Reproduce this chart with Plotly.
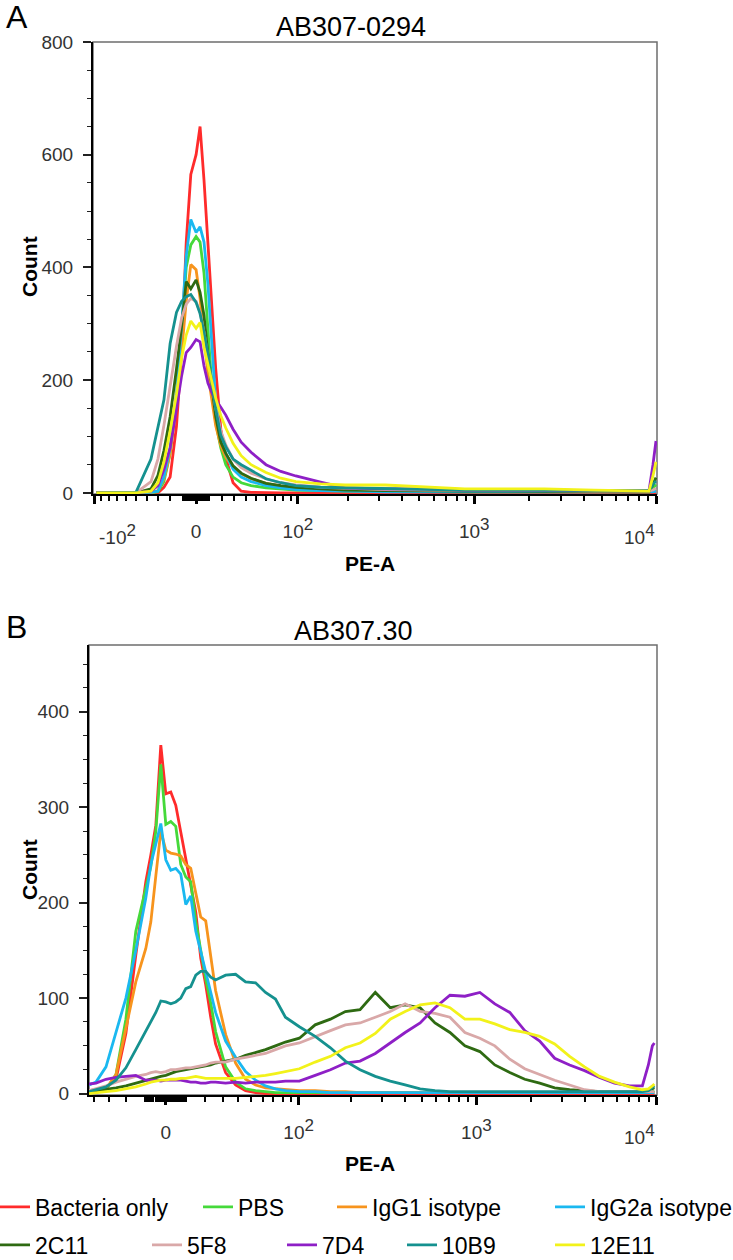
import numpy as np
import plotly.graph_objects as go

# ---------------- display transform (biexponential-like axis) ----------------
W_A = 60.0   # width parameter of panel A axis
W_B = 38.0   # width parameter of panel B axis


def logicle(values, w):
    return np.arcsinh(np.asarray(values, dtype=float) / w)


SERIES = ["Bacteria only", "PBS", "IgG1 isotype", "IgG2a isotype",
          "2C11", "5F8", "7D4", "10B9", "12E11"]
COLORS = ["#FF2B2B", "#45D93A", "#F7941D", "#1AB8F0",
          "#2E6A12", "#D9A8A8", "#8E1FC6", "#15918F", "#F2F21A"]

# ---------------- Panel A : AB307-0294 ----------------
PE_A = [-97, -50, -36, -30, -25, -20, -15, -11, -7.5, -4, 0, 3, 6, 9, 12, 15, 19, 23,
        29, 36, 45, 60, 77, 97, 138, 192, 323, 536, 888, 1470, 2430, 4550, 7510,
        9070, 9530, 9900]
a_bacteria = [0, 0, 0, 0, 10, 28, 118, 250, 444, 565, 600, 650, 555, 440, 330, 220, 113, 62,
              18, 3, 1, 0, 0, 0, 0, 0, 0, 0, 0, 0, 0, 0, 0, 0, 0, 0]
a_pbs = [0, 0, 0, 2, 20, 70, 165, 280, 400, 440, 455, 445, 390, 290, 190, 125, 80, 50,
         28, 18, 13, 9, 7, 5, 4, 3, 3, 2, 2, 2, 2, 2, 2, 2, 8, 15]
a_igg1 = [0, 0, 0, 4, 25, 70, 160, 250, 340, 405, 396, 345, 280, 210, 165, 119, 84, 63,
          45, 34, 25, 17, 12, 9, 6, 4, 3, 3, 2, 2, 2, 2, 2, 2, 3, 5]
a_igg2a = [0, 0, 1, 3, 28, 80, 178, 296, 420, 485, 462, 472, 445, 370, 255, 160, 102, 70,
           42, 28, 20, 13, 9, 6, 4, 3, 2, 2, 2, 2, 2, 1, 1, 1, 2, 3]
a_2c11 = [0, 0, 7, 31, 75, 135, 220, 296, 375, 362, 378, 356, 315, 245, 190, 135, 90, 70,
          48, 35, 26, 17, 13, 10, 7, 5, 4, 3, 3, 3, 3, 2, 2, 2, 15, 27]
a_5f8 = [0, 0, 20, 60, 120, 190, 260, 310, 335, 345, 340, 320, 285, 240, 195, 150, 110, 85,
         60, 45, 35, 25, 18, 14, 10, 8, 6, 5, 5, 4, 4, 3, 3, 3, 5, 8]
a_7d4 = [0, 0, 3, 13, 42, 80, 149, 208, 249, 258, 272, 268, 225, 195, 178, 165, 152, 138,
         113, 90, 72, 50, 38, 30, 19, 9, 7, 7, 5, 5, 4, 4, 4, 4, 50, 92]
a_10b9 = [0, 1, 60, 119, 165, 265, 320, 340, 348, 352, 338, 318, 285, 245, 200, 149, 102, 82,
          60, 50, 40, 25, 18, 13, 10, 9, 7, 6, 5, 5, 5, 4, 4, 4, 15, 21]
a_12e11 = [0, 0, 3, 18, 55, 110, 175, 240, 280, 305, 292, 302, 258, 228, 198, 168, 137, 115,
           88, 66, 50, 36, 26, 20, 16, 14, 14, 10, 7, 7, 7, 5, 3, 3, 30, 55]

# ---------------- Panel B : AB307.30 ----------------
PE_B = [-43.5, -38.5, -31.9, -25.8, -20.2, -14.9, -9.8, -7.3, -4.85, -2.42,
        0, 2.42, 4.85, 7.3, 9.8, 12.3, 14.9, 17.5, 20.2, 23,
        25.8, 31.9, 38.5, 45.7, 53.7, 62.5, 72.3, 83.3, 101, 125,
        153, 186, 225, 274, 332, 402, 487, 589, 713, 863,
        1045, 1265, 1531, 1853, 2243, 2715, 3286, 3976, 4813, 5824,
        7049, 8314, 8975, 9445, 9690]
b_bacteria = [3, 4, 6, 15, 63, 145, 222, 250, 281, 365,
              314, 316, 302, 274, 246, 218, 190, 142, 114, 80,
              52, 22, 9, 3, 1, 0, 0, 0, 0, 0,
              0, 0, 0, 0, 0, 0, 0, 0, 0, 0,
              0, 0, 0, 0, 0, 0, 0, 0, 0, 0,
              0, 0, 0, 0, 0]
b_pbs = [1, 2, 4, 20, 78, 170, 214, 238, 275, 345,
         282, 285, 280, 240, 227, 222, 180, 150, 120, 95,
         65, 28, 12, 5, 3, 2, 1, 1, 1, 1,
         1, 1, 1, 1, 1, 1, 1, 1, 1, 1,
         1, 1, 1, 1, 1, 1, 1, 1, 1, 1,
         1, 1, 1, 2, 3]
b_igg1 = [2, 3, 5, 20, 67, 117, 152, 180, 228, 275,
          255, 252, 251, 249, 240, 236, 210, 185, 181, 145,
          108, 62, 32, 15, 9, 6, 5, 4, 3, 3,
          2, 2, 1, 1, 1, 1, 1, 1, 1, 1,
          1, 1, 1, 1, 1, 1, 1, 1, 1, 1,
          1, 1, 1, 1, 1]
b_igg2a = [9, 12, 28, 63, 100, 150, 205, 240, 262, 283,
           245, 234, 236, 230, 198, 207, 170, 148, 128, 105,
           85, 55, 38, 23, 14, 8, 5, 3, 2, 2,
           1, 1, 1, 1, 1, 1, 1, 1, 1, 1,
           1, 1, 1, 1, 1, 1, 1, 1, 1, 1,
           1, 1, 1, 1, 1]
b_2c11 = [2, 3, 4, 6, 8, 11, 14, 15, 17, 18,
          19, 21, 23, 24, 25, 26, 27, 28, 29, 30,
          32, 34, 36, 40, 43, 46, 50, 54, 58, 72,
          78, 86, 88, 106, 90, 93, 90, 74, 64, 50,
          44, 30, 22, 15, 11, 6, 4, 3, 2, 2,
          2, 2, 3, 5, 6]
b_5f8 = [3, 5, 8, 12, 15, 18, 20, 22, 23, 22,
         23, 25, 25, 26, 27, 27, 28, 29, 30, 32,
         33, 33, 36, 38, 40, 42, 46, 50, 53, 60,
         66, 72, 74, 80, 86, 94, 86, 84, 80, 64,
         58, 50, 36, 26, 20, 14, 9, 4, 2, 2,
         2, 2, 2, 2, 2]
b_7d4 = [10, 11, 15, 17, 18, 19, 14, 14, 14, 13,
         14, 14, 14, 14, 13, 12, 12, 11, 11, 12,
         12, 11, 12, 11, 12, 12, 12, 13, 13, 19,
         25, 32, 34, 42, 53, 64, 74, 90, 103, 102,
         106, 94, 85, 66, 55, 37, 30, 24, 17, 11,
         8, 8, 30, 50, 53]
b_10b9 = [2, 4, 7, 14, 27, 46, 65, 74, 85, 97,
          96, 94, 96, 100, 110, 112, 124, 128, 128, 122,
          119, 124, 125, 117, 116, 106, 99, 80, 70, 60,
          48, 34, 25, 18, 13, 9, 5, 3, 2, 2,
          2, 2, 2, 2, 2, 2, 2, 2, 2, 2,
          2, 2, 3, 6, 8]
b_12e11 = [0, 1, 2, 3, 5, 7, 10, 12, 13, 14,
           14, 15, 15, 16, 16, 17, 18, 17, 16, 16,
           16, 16, 16, 17, 18, 19, 21, 23, 26, 33,
           39, 48, 53, 63, 78, 86, 93, 95, 90, 78,
           78, 73, 67, 64, 60, 52, 39, 28, 18, 12,
           7, 4, 5, 8, 10]

PANEL_A = [a_bacteria, a_pbs, a_igg1, a_igg2a, a_2c11, a_5f8, a_7d4, a_10b9, a_12e11]
PANEL_B = [b_bacteria, b_pbs, b_igg1, b_igg2a, b_2c11, b_5f8, b_7d4, b_10b9, b_12e11]

# tick labels
SUP = "<sup><span style='font-size:17px'>{}</span></sup>"
A_MAJOR = [-100, 0, 100, 1000, 10000]
A_MAJOR_TEXT = ["", "0", "10" + SUP.format(2), "10" + SUP.format(3), ""]
B_MAJOR = [0, 100, 1000, 10000]
B_MAJOR_TEXT = ["0", "10" + SUP.format(2), "10" + SUP.format(3), ""]
A_YTICKS = [0, 200, 400, 600, 800]
B_YTICKS = [0, 100, 200, 300, 400]

MINOR_POS = [m * 10 ** e for e in (0, 1, 2, 3) for m in range(2, 10)] + list(range(1, 11))
A_MINOR = sorted(set([v for v in MINOR_POS] + [-v for v in MINOR_POS if v < 100]))
B_MINOR = sorted(set([v for v in MINOR_POS] + [-v for v in MINOR_POS if v <= 40]))

FONT = "Liberation Sans, Arial, Helvetica, sans-serif"
FW, FH = 733, 1260

fig = go.Figure()

for name, color, ya in zip(SERIES, COLORS, PANEL_A):
    fig.add_trace(go.Scatter(x=logicle(PE_A, W_A), y=ya, mode="lines", name=name,
                             line=dict(color=color, width=2.8), showlegend=False,
                             xaxis="x", yaxis="y", hoverinfo="skip"))

for i, (name, color, yb) in enumerate(zip(SERIES, COLORS, PANEL_B)):
    fig.add_trace(go.Scatter(x=logicle(PE_B, W_B), y=yb, mode="lines", name=name,
                             line=dict(color=color, width=2.8), showlegend=True,
                             legend="legend" if i == 0 else f"legend{i + 1}",
                             xaxis="x2", yaxis="y2", hoverinfo="skip"))


def px(x):
    return x / FW


def py(y):
    return 1 - y / FH


TICKFONT = dict(size=19, color="#333333", family=FONT)
xcommon = dict(showline=True, linecolor="black", linewidth=2, showgrid=False, zeroline=False,
               ticks="outside", ticklen=8, tickwidth=2.5, tickcolor="black",
               tickfont=TICKFONT, tickmode="array", ticklabelstandoff=11)
ycommon = dict(showline=True, linecolor="black", linewidth=2, showgrid=False, zeroline=False,
               ticks="outside", ticklen=8, tickwidth=2, tickcolor="#222222",
               tickfont=TICKFONT, tickmode="array", ticklabelstandoff=6)

fig.update_layout(
    width=FW, height=FH, paper_bgcolor="white", plot_bgcolor="white",
    margin=dict(l=0, r=0, t=0, b=0, autoexpand=False),
    font=dict(family=FONT, color="black"),
    xaxis=dict(xcommon, domain=[px(93), px(657)], anchor="y", range=[-1.30, 5.812],
               tickvals=logicle(A_MAJOR, W_A), ticktext=A_MAJOR_TEXT,
               minor=dict(tickmode="array", tickvals=logicle(A_MINOR, W_A), ticks="outside",
                          ticklen=5, tickwidth=1.5, tickcolor="black", showgrid=False)),
    yaxis=dict(ycommon, domain=[py(494), py(42)], anchor="x", range=[-2, 800],
               tickvals=A_YTICKS,
               minor=dict(tickmode="linear", tick0=0, dtick=50, ticks="outside", ticklen=4,
                          tickwidth=1.2, tickcolor="#222222", showgrid=False)),
    xaxis2=dict(xcommon, domain=[px(89), px(657)], anchor="y2", range=[-0.98, 6.268],
                tickvals=logicle(B_MAJOR, W_B), ticktext=B_MAJOR_TEXT,
                minor=dict(tickmode="array", tickvals=logicle(B_MINOR, W_B), ticks="outside",
                           ticklen=5, tickwidth=1.5, tickcolor="black", showgrid=False)),
    yaxis2=dict(ycommon, domain=[py(1095), py(645)], anchor="x2", range=[-1.5, 470],
                tickvals=B_YTICKS,
                minor=dict(tickmode="linear", tick0=0, dtick=25, ticks="outside", ticklen=4,
                           tickwidth=1.2, tickcolor="#222222", showgrid=False)),
)

# frame around each panel
for xr, yr in (("x", "y"), ("x2", "y2")):
    fig.add_shape(type="rect", xref=f"{xr} domain", yref=f"{yr} domain", x0=0, x1=1, y0=0, y1=1,
                  line=dict(color="#6e6e6e", width=1.5), layer="below")

# legends (one per entry, laid out in two rows)
LEG_POS = [(-5, 1207), (198, 1207), (332, 1207), (550, 1207),
           (-5, 1245), (147, 1245), (282, 1245), (402, 1245), (550, 1245)]
for i, (lx, ly) in enumerate(LEG_POS):
    key = "legend" if i == 0 else f"legend{i + 1}"
    fig.update_layout({key: dict(x=px(lx), y=py(ly), xanchor="left", yanchor="middle",
                                 bgcolor="rgba(0,0,0,0)", borderwidth=0, itemwidth=30,
                                 orientation="h",
                                 font=dict(size=23, color="black", family=FONT))})

ann = []
ann.append(dict(text="A", x=px(4), y=py(17), xanchor="left", yanchor="middle", font=dict(size=32)))
ann.append(dict(text="B", x=px(4), y=py(627), xanchor="left", yanchor="middle", font=dict(size=32)))
ann.append(dict(text="AB307-0294", x=px(351), y=py(27), xanchor="center", yanchor="middle",
                font=dict(size=27)))
ann.append(dict(text="AB307.30", x=px(353), y=py(631), xanchor="center", yanchor="middle",
                font=dict(size=27)))
for yc in (267, 870):
    ann.append(dict(text="<b>Count</b>", x=px(29), y=py(yc), xanchor="center", yanchor="middle",
                    textangle=-90, font=dict(size=21)))
for yc in (563, 1163):
    ann.append(dict(text="<b>PE-A</b>", x=px(370), y=py(yc), xanchor="center", yanchor="middle",
                    font=dict(size=21)))
for a in ann:
    a.update(xref="paper", yref="paper", showarrow=False)
    a["font"].update(family=FONT, color="black")

# edge tick labels (placed inside the axis span as in the original)
fig.add_annotation(text="-10" + SUP.format(2), xref="x", yref="paper",
                   x=float(logicle(-100, W_A)), y=py(534), xanchor="left", yanchor="middle",
                   xshift=3, showarrow=False, font=TICKFONT)
fig.add_annotation(text="10" + SUP.format(4), xref="x", yref="paper",
                   x=float(logicle(10000, W_A)), y=py(534), xanchor="right", yanchor="middle",
                   showarrow=False, font=TICKFONT)
fig.add_annotation(text="10" + SUP.format(4), xref="x2", yref="paper",
                   x=float(logicle(10000, W_B)), y=py(1134), xanchor="right", yanchor="middle",
                   showarrow=False, font=TICKFONT)
for a in ann:
    fig.add_annotation(a)

fig.write_html("out.html", config={"displayModeBar": False},
               post_script="document.body.style.margin='0px';")
